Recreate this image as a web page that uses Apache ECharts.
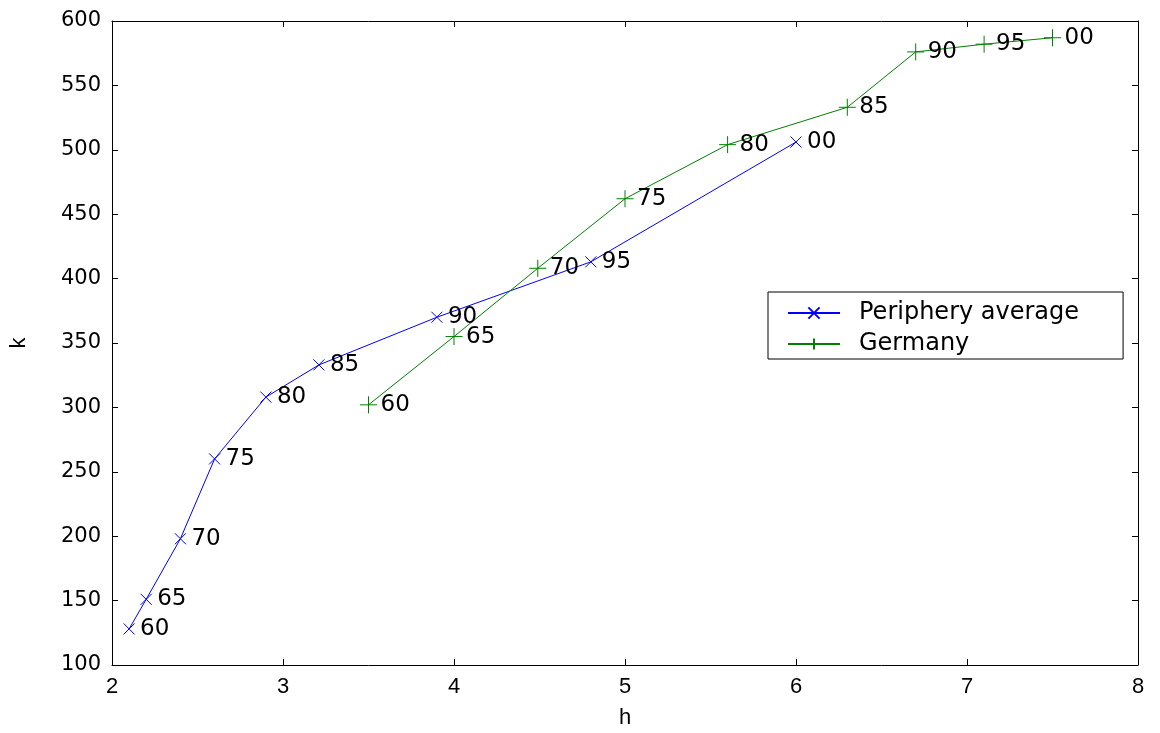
<!DOCTYPE html>
<html>
<head>
<meta charset="utf-8">
<script src="https://cdn.jsdelivr.net/npm/echarts@6/dist/echarts.min.js"></script>
<style>html,body{margin:0;padding:0;background:#fff}#c{width:1160px;height:733px}</style>
</head>
<body>
<div id="c"></div>
<script>
var yearLabels = ['60','65','70','75','80','85','90','95','00'];
var peripheryH = [2.10, 2.20, 2.40, 2.60, 2.90, 3.21, 3.90, 4.80, 6.00];
var peripheryK = [128, 151, 198, 260, 308, 333, 370, 413, 506];
var germanyH = [3.50, 4.00, 4.49, 5.00, 5.60, 6.30, 6.70, 7.10, 7.50];
var germanyK = [302, 355, 408, 462, 504, 533, 576, 582, 587];
var xTicks = [2, 3, 4, 5, 6, 7, 8];
var yTicks = [100, 150, 200, 250, 300, 350, 400, 450, 500, 550, 600];

function build(h, k) {
  return h.map(function (v, i) { return [v, k[i], yearLabels[i]]; });
}

var font = '"Liberation Sans", Arial, sans-serif';
var wide = '"DejaVu Sans", sans-serif';
var xSym = 'path://M0,0L10,10M10,0L0,10';
var plusSym = 'path://M5,0L5,10M0,5L10,5';

var chart = echarts.init(document.getElementById('c'), null, {renderer: 'canvas'});
var axisCommon = {
  axisLine: {show: true, lineStyle: {color: '#000', width: 1}},
  axisTick: {show: true, inside: true, length: 6, lineStyle: {color: '#000'}},
  splitLine: {show: false}
};
function labelStyle(dist) {
  return {
    show: true, position: 'right', distance: dist,
    formatter: function (p) { return p.data[2]; },
    color: '#000', fontFamily: wide, fontSize: 23
  };
}
chart.setOption({
  animation: false,
  backgroundColor: '#fff',
  grid: {left: 112, right: 22, top: 21, bottom: 68, containLabel: false, outerBoundsMode: 'none'},
  xAxis: [
    Object.assign({
      type: 'value', position: 'bottom', min: xTicks[0], max: xTicks[xTicks.length - 1], interval: 1,
      name: 'h', nameLocation: 'middle', nameGap: 42,
      nameTextStyle: {color: '#000', fontFamily: font, fontSize: 22},
      axisLabel: {color: '#000', fontFamily: font, fontSize: 22, margin: 11}
    }, axisCommon),
    Object.assign({
      type: 'value', position: 'top', min: xTicks[0], max: xTicks[xTicks.length - 1], interval: 1,
      axisLabel: {show: false}
    }, axisCommon)
  ],
  yAxis: [
    Object.assign({
      type: 'value', position: 'left', min: yTicks[0], max: yTicks[yTicks.length - 1], interval: 50,
      name: 'k', nameLocation: 'middle', nameGap: 82, nameRotate: 90,
      nameTextStyle: {color: '#000', fontFamily: font, fontSize: 22},
      axisLabel: {color: '#000', fontFamily: wide, fontSize: 21, margin: 11}
    }, axisCommon),
    Object.assign({
      type: 'value', position: 'right', min: yTicks[0], max: yTicks[yTicks.length - 1], interval: 50,
      axisLabel: {show: false}
    }, axisCommon)
  ],
  legend: {
    orient: 'vertical', left: 768, top: 292,
    backgroundColor: '#fff', borderColor: '#000', borderWidth: 1, borderRadius: 0,
    padding: [9, 44, 3, 19], itemWidth: 52, itemHeight: 14, itemGap: 7,
    textStyle: {color: '#000', fontFamily: wide, fontSize: 24, padding: [0, 0, 0, 14]},
    data: ['Periphery average', 'Germany']
  },
  series: [
    {
      name: 'Periphery average', type: 'line', data: build(peripheryH, peripheryK),
      symbol: xSym, symbolSize: 11,
      itemStyle: {color: 'none', borderColor: '#0000ff', borderWidth: 1},
      lineStyle: {color: '#0000ff', width: 1},
      label: labelStyle(3)
    },
    {
      name: 'Germany', type: 'line', data: build(germanyH, germanyK),
      symbol: plusSym, symbolSize: 17,
      itemStyle: {color: 'none', borderColor: '#008000', borderWidth: 1},
      lineStyle: {color: '#008000', width: 1},
      label: labelStyle(1)
    }
  ]
});
</script>
</body>
</html>
